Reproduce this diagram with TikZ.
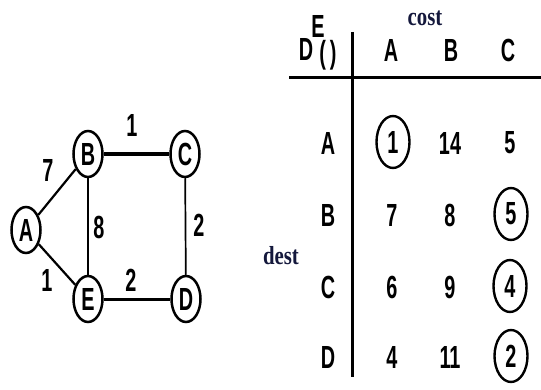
\documentclass[tikz,border=0pt]{standalone}
\usepackage{fontspec}
\newfontfamily\narrowsans[FakeStretch=0.62]{Liberation Sans}
\newfontfamily\narrowserif[FakeStretch=0.8]{Liberation Serif}
\usetikzlibrary{shapes.geometric}
\definecolor{inkblue}{RGB}{20,24,60}
\begin{document}
\begin{tikzpicture}[
  x=0.5pt, y=-0.5pt,
  every node/.style={font=\narrowsans\bfseries\fontsize{16}{18}\selectfont, inner sep=0pt},
  vertex/.style={draw, ellipse, line width=1.25pt, minimum width=14.5pt, minimum height=23pt},
  pick/.style={draw, ellipse, line width=1.2pt, minimum width=16.5pt, minimum height=26pt},
  axis/.style={font=\narrowserif\bfseries\fontsize{13}{15}\selectfont, text=inkblue},
  rule/.style={line width=1.5pt}
]
\useasboundingbox (0,0) rectangle (541,390);
% graph
\node[vertex] (A) at (26,230) {A};
\node[vertex] (B) at (88,154) {B};
\node[vertex] (C) at (185,154) {C};
\node[vertex] (E) at (88,299) {E};
\node[vertex] (D) at (186,299) {D};
\draw[line width=1.1pt] (A) -- (B);
\draw[line width=1.1pt] (A) -- (E);
\draw[line width=2pt] (B) -- (C);
\draw[line width=1.4pt] (B) -- (E);
\draw[line width=0.85pt] (C) -- (D);
\draw[line width=1.5pt] (E) -- (D);
\node (wab) at (48,170) {7};
\node (wae) at (47,280) {1};
\node (wbc) at (132,125) {1};
\node (wbe) at (99,227) {8};
\node (wcd) at (199,225) {2};
\node (wed) at (131,280) {2};
% table
\node[axis] (cost) at (425,18) {cost};
\node[axis] (dest) at (281,256) {dest};
\node (dd) at (306,49) {D};
\node (de) at (318,26) {E};
\node (dp) at (328,55) {(\kern2pt)};
\coordinate (ruletop) at (352,32);
\coordinate (rulebot) at (352,377);
\coordinate (lineleft) at (289,78);
\coordinate (lineright) at (541,78);
\draw[rule] (ruletop) -- (rulebot);
\draw[rule] (lineleft) -- (lineright);
\node (ca) at (391,50) {A};
\node (cb) at (451,50) {B};
\node (cc) at (508,50) {C};
\node (ra) at (328,143) {A};
\node (rb) at (328,215) {B};
\node (rc) at (328,287) {C};
\node (rd) at (328,357) {D};
\node[pick] (aa) at (393,142) {1};
\node (ab) at (450,143) {14};
\node (ac) at (510,143) {5};
\node (ba) at (392,215) {7};
\node (bb) at (450,215) {8};
\node[pick] (bc) at (511,214) {5};
\node (ca2) at (392,287) {6};
\node (cb2) at (450,287) {9};
\node[pick] (cc2) at (510,286) {4};
\node (da) at (392,357) {4};
\node (db) at (450,357) {11};
\node[pick] (dc) at (511,356) {2};
\end{tikzpicture}
\end{document}
